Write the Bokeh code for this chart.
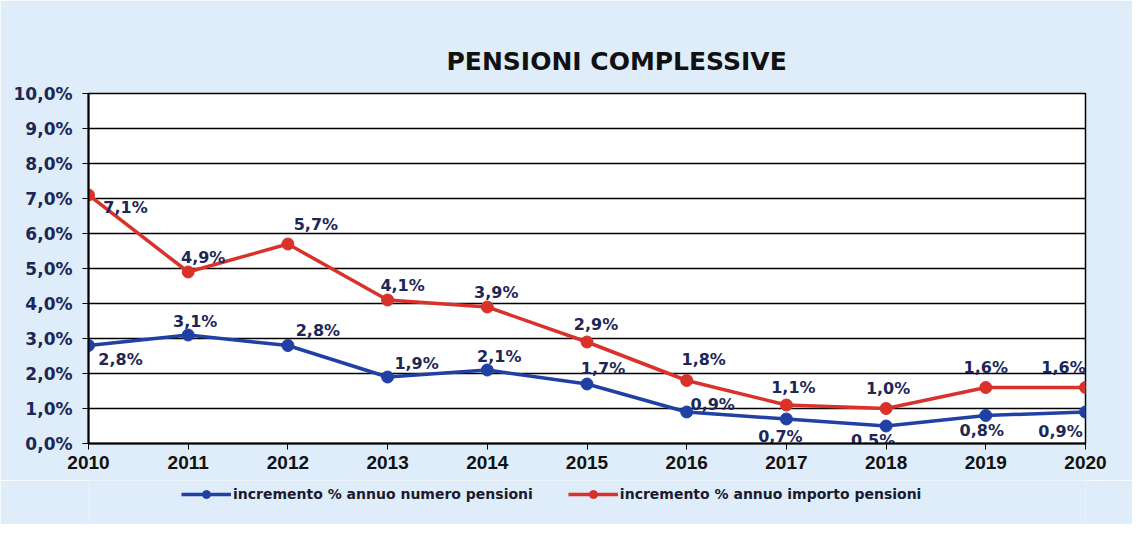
from bokeh.plotting import figure
from bokeh.layouts import column
from bokeh.models import FixedTicker, Legend, LegendItem, ColumnDataSource
from bokeh.core.properties import value
from bokeh.embed import file_html
from bokeh.resources import INLINE

years = [2010, 2011, 2012, 2013, 2014, 2015, 2016, 2017, 2018, 2019, 2020]
numero = [2.8, 3.1, 2.8, 1.9, 2.1, 1.7, 0.9, 0.7, 0.5, 0.8, 0.9]
importo = [7.1, 4.9, 5.7, 4.1, 3.9, 2.9, 1.8, 1.1, 1.0, 1.6, 1.6]
y_ticks = [0, 1, 2, 3, 4, 5, 6, 7, 8, 9, 10]
title_text = "PENSIONI COMPLESSIVE"
name_numero = "incremento % annuo numero pensioni"
name_importo = "incremento % annuo importo pensioni"

# label offsets (pixels) for each data label
numero_dx = [32, 7, 30, 29, 12, 16, 26, -6, -13, -4, -25]
numero_dy = [14, -14, -15, -14, -14, -16, -8, 17, 14, 15, 19]
importo_dx = [37, 15, 28, 15, 9, 9, 17, 7, 2, 0, -22]
importo_dy = [12, -15, -20, -15, -15, -18, -21, -18, -20, -20, -20]

BLUE = "#2140a3"
RED = "#d8322b"
NAVY = "#1c2757"
BG = "#deedf9"

def fmt(v):
    return ("%.1f%%" % v).replace(".", ",")

p = figure(frame_width=997, frame_height=350, x_range=(2010, 2020), y_range=(0, 10),
           output_backend="svg", toolbar_location=None,
           min_border_left=88, min_border_right=47, min_border_top=93, min_border_bottom=37)

p.border_fill_color = BG
p.background_fill_color = "white"
p.outline_line_color = "black"
p.outline_line_width = 1.5

p.title.text = title_text
p.title.align = "left"
p.title.offset = 358
p.title.text_font = "DejaVu Sans"
p.title.text_font_style = "bold"
p.title.text_font_size = "25px"
p.title.text_color = "#111111"
p.title.standoff = 36

p.xgrid.visible = False
p.ygrid.ticker = FixedTicker(ticks=y_ticks)
p.ygrid.grid_line_color = "black"
p.ygrid.grid_line_width = 1.5

p.yaxis.ticker = FixedTicker(ticks=y_ticks)
p.yaxis.major_label_overrides = {t: fmt(t) for t in y_ticks}
p.yaxis.major_label_text_font = "DejaVu Sans"
p.yaxis.major_label_text_font_style = "bold"
p.yaxis.major_label_text_font_size = "17px"
p.yaxis.major_label_text_color = NAVY
p.yaxis.axis_line_color = "black"
p.yaxis.axis_line_width = 2
p.yaxis.major_tick_out = 6
p.yaxis.major_tick_in = 0
p.yaxis.minor_tick_line_color = None
p.yaxis.major_label_standoff = 10

p.xaxis.ticker = FixedTicker(ticks=years)
p.xaxis.major_label_overrides = {y: str(y) for y in years}
p.xaxis.major_label_text_font = "Liberation Sans"
p.xaxis.major_label_text_font_style = "bold"
p.xaxis.major_label_text_font_size = "19px"
p.xaxis.major_label_text_color = "#111111"
p.xaxis.axis_line_color = "black"
p.xaxis.axis_line_width = 2
p.xaxis.major_tick_out = 6
p.xaxis.major_tick_in = 0
p.xaxis.minor_tick_line_color = None
p.xaxis.major_label_standoff = 6

src_n = ColumnDataSource(dict(x=years, y=numero, t=[fmt(v) for v in numero],
                              dx=numero_dx, dy=numero_dy))
src_i = ColumnDataSource(dict(x=years, y=importo, t=[fmt(v) for v in importo],
                              dx=importo_dx, dy=importo_dy))

p.line("x", "y", source=src_n, line_color=BLUE, line_width=3.5)
p.scatter("x", "y", source=src_n, size=12, fill_color=BLUE, line_color=BLUE)
p.line("x", "y", source=src_i, line_color=RED, line_width=3.5)
p.scatter("x", "y", source=src_i, size=12, fill_color=RED, line_color=RED)

for src in (src_n, src_i):
    p.text("x", "y", text="t", source=src, x_offset="dx", y_offset="dy",
           text_font=value("DejaVu Sans"), text_font_style="bold",
           text_font_size="16px", text_color=NAVY,
           text_align="center", text_baseline="middle")

# legend strip below the chart
q = figure(width=1132, height=44, x_range=(0, 1), y_range=(0, 1),
           output_backend="svg", toolbar_location=None, min_border=0)
q.axis.visible = False
q.grid.visible = False
q.outline_line_color = None
q.background_fill_color = BG
q.border_fill_color = BG
ln = q.line("x", "y", source=src_n, line_color=BLUE, line_width=3.5)
cn = q.scatter("x", "y", source=src_n, size=12, fill_color=BLUE, line_color=BLUE)
li = q.line("x", "y", source=src_i, line_color=RED, line_width=3.5)
ci = q.scatter("x", "y", source=src_i, size=12, fill_color=RED, line_color=RED)

legend = Legend(items=[LegendItem(label=name_numero, renderers=[ln, cn]),
                       LegendItem(label=name_importo, renderers=[li, ci])],
                orientation="horizontal", location=(93, 20),
                background_fill_alpha=0, border_line_color=None,
                label_text_font="DejaVu Sans", label_text_font_style="bold",
                label_text_font_size="14px", label_text_color="#1a1a2e",
                glyph_width=50, spacing=35, margin=0, padding=4,
                label_standoff=2, inactive_fill_alpha=0)
q.add_layout(legend, "center")

layout = column(p, q, spacing=0)
open("out.html", "w").write(file_html(layout, INLINE))
